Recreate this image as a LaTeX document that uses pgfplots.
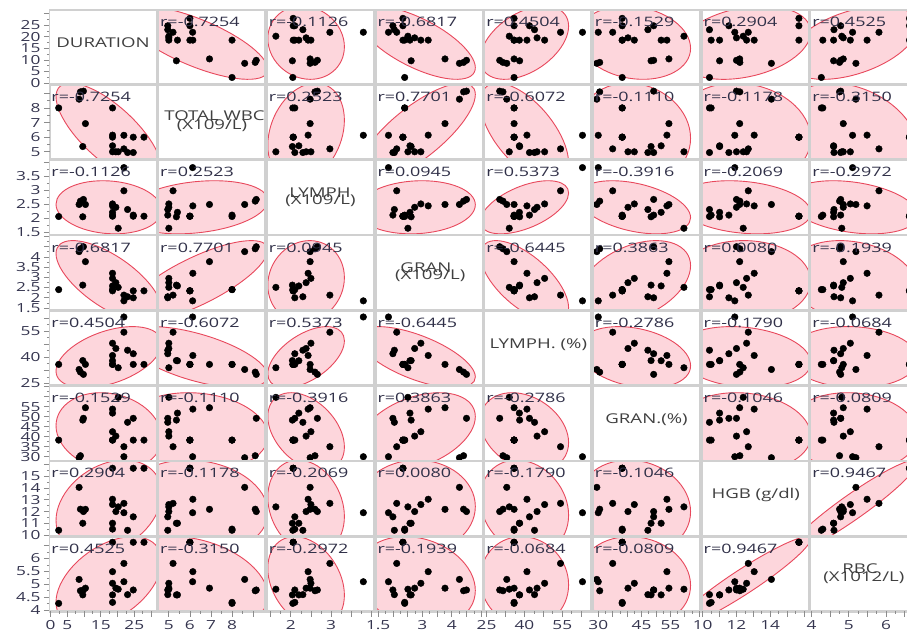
\documentclass[border=0pt]{standalone}
\usepackage{pgfplots}
\pgfplotsset{compat=1.18}
\usepackage{pgfplotstable}
\usepackage{fontspec}
\setmainfont{Open Sans}[FakeStretch=1.38]

\definecolor{ellfill}{RGB}{253,214,220}
\definecolor{elledge}{RGB}{232,72,92}
\definecolor{framegray}{RGB}{208,208,208}
\definecolor{labtext}{RGB}{64,64,64}
\definecolor{rtext}{RGB}{48,48,72}
\definecolor{ticktext}{RGB}{52,52,78}

\newcommand\ticfont{\fontsize{12.5}{13}\selectfont}
\newcommand\rfont{\fontsize{13}{14}\selectfont}
\newcommand\dfont{\fontsize{13.5}{14}\selectfont}

% variable k: column name, axis range, density-ellipse centre and half extent
\newcommand\vcol[1]{\ifcase#1\or D\or W\or L\or G\or LP\or GP\or H\or R\fi}
\newcommand\vmin[1]{\ifcase#1\or -0.2\or 4.52\or 1.42\or 1.43\or 24.3\or 28.35\or 9.97\or 3.98\fi}
\newcommand\vmax[1]{\ifcase#1\or 31.5\or 9.55\or 4.05\or 5.03\or 66.3\or 65.1\or 16.25\or 6.83\fi}
\newcommand\vmu[1]{\ifcase#1\or 17.4\or 6.3\or 2.38\or 2.8\or 40\or 42.5\or 12.4\or 5.1\fi}
\newcommand\vsd[1]{\ifcase#1\or 15.8\or 3.4\or 0.95\or 2.0\or 17.5\or 19.5\or 4.0\or 1.75\fi}
\newcommand\vticks[1]{\ifcase#1\or 0,5,10,15,20,25,30\or 5,6,7,8,9\or 1.5,2,2.5,3,3.5,4\or 1.5,2,2.5,3,3.5,4,4.5,5\or 25,32.5,40,47.5,55,62.5\or 30,35,40,45,50,55,60,65\or 10,11,12,13,14,15,16\or 4,4.5,5,5.5,6,6.5\fi}
\newcommand\vxlab[1]{\ifcase#1\or 0,5,,15,,25,\or 5,6,7,8,\or ,2,,3,,\or 1.5,,,3,,4,,\or 25,,40,,55,\or 30,,,45,,55,,\or 10,,12,,14,,\or 4,,5,,6,\fi}
\newcommand\vylab[1]{\ifcase#1\or 0,5,10,15,20,25,\or 5,6,7,8,\or 1.5,2,2.5,3,3.5,\or 1.5,2,2.5,3,3.5,4,,\or 25,,40,,55,\or 30,35,40,45,50,55,,\or 10,11,12,13,14,15,\or 4,4.5,5,5.5,6,\fi}

% pairwise correlations
\newcommand\setr[3]{\expandafter\def\csname rr@#1@#2\endcsname{#3}}
\newcommand\rr[2]{\csname rr@\ifnum#1<#2 #1@#2\else#2@#1\fi\endcsname}
\setr{1}{1}{1}\setr{2}{2}{1}\setr{3}{3}{1}\setr{4}{4}{1}
\setr{5}{5}{1}\setr{6}{6}{1}\setr{7}{7}{1}\setr{8}{8}{1}
\setr{1}{2}{-0.7254}\setr{1}{3}{-0.1126}\setr{1}{4}{-0.6817}\setr{1}{5}{0.4504}
\setr{1}{6}{-0.1529}\setr{1}{7}{0.2904}\setr{1}{8}{0.4525}
\setr{2}{3}{0.2523}\setr{2}{4}{0.7701}\setr{2}{5}{-0.6072}\setr{2}{6}{-0.1110}
\setr{2}{7}{-0.1178}\setr{2}{8}{-0.3150}
\setr{3}{4}{0.0945}\setr{3}{5}{0.5373}\setr{3}{6}{-0.3916}\setr{3}{7}{-0.2069}\setr{3}{8}{-0.2972}
\setr{4}{5}{-0.6445}\setr{4}{6}{0.3863}\setr{4}{7}{0.0080}\setr{4}{8}{-0.1939}
\setr{5}{6}{-0.2786}\setr{5}{7}{-0.1790}\setr{5}{8}{-0.0684}
\setr{6}{7}{-0.1046}\setr{6}{8}{-0.0809}
\setr{7}{8}{0.9467}

\tikzset{dlab/.style={font=\dfont, text=labtext, inner sep=0pt, anchor=center}}
\newcommand\diaglabel[1]{\ifcase#1\or
  \node[dlab] at (rel axis cs:0.5,0.555) {DURATION};\or
  \node[dlab] at (rel axis cs:0.526,0.585) {TOTAL WBC};
  \node[dlab] at (rel axis cs:0.503,0.445) {(X109/L)};\or
  \node[dlab] at (rel axis cs:0.496,0.57) {LYMPH};
  \node[dlab] at (rel axis cs:0.5,0.455) {(X109/L)};\or
  \node[dlab] at (rel axis cs:0.47,0.565) {GRAN};
  \node[dlab] at (rel axis cs:0.51,0.46) {(X109/L)};\or
  \node[dlab] at (rel axis cs:0.505,0.54) {LYMPH. (\%)};\or
  \node[dlab] at (rel axis cs:0.5,0.545) {GRAN.(\%)};\or
  \node[dlab] at (rel axis cs:0.505,0.548) {HGB (g/dl)};\or
  \node[dlab] at (rel axis cs:0.463,0.565) {RBC};
  \node[dlab] at (rel axis cs:0.5,0.452) {(X1012/L)};\fi}

\pgfplotsset{
  cell/.style={
    width=106pt, height=73.5pt, scale only axis,
    anchor=north west,
    axis background/.style={fill=white},
    axis line style={draw=framegray, line width=1pt},
    axis on top,
    xtick=\empty, ytick=\empty,
    tick style={draw=black!45, line width=0.7pt},
    major tick length=6pt, minor tick length=3pt,
    tick align=outside, tick pos=left,
    tick label style={font=\ticfont, text=ticktext},
    clip marker paths=true,
  },
}

\begin{document}
\pgfplotstableread{
D    W     L     G     LP    GP    H      R
2.4  8.00  2.05  2.40  35.9  38.3  10.40  4.26
8.5  8.60  2.48  4.26  33.0  29.5  14.07  5.19
8.9  9.10  2.60  4.40  31.5  30.5  12.20  4.75
9.8  9.15  2.66  4.50  30.2  49.2  12.00  4.78
9.6  5.36  2.04  2.62  38.1  48.3  11.00  4.59
10.4 6.93  2.48  3.77  35.9  54.5  12.19  4.85
18.5 8.00  2.10  2.40  35.9  38.3  10.50  4.30
18.5 6.14  2.43  3.20  41.0  53.8  13.05  5.49
18.5 6.00  2.06  2.34  35.9  38.3  15.70  6.63
18.5 5.41  2.20  2.58  38.0  51.8  11.00  4.59
18.5 5.00  2.50  2.95  48.0  42.5  12.60  5.04
19.5 5.00  2.38  2.74  45.0  40.3  12.00  4.85
20.2 5.00  1.63  2.51  34.0  59.7  12.40  4.81
21.9 6.13  3.80  1.85  63.0  30.0  11.90  5.10
21.9 5.20  2.97  2.13  54.3  35.0  12.70  5.81
23.0 4.95  2.30  2.05  44.0  47.2  10.40  4.60
24.7 6.00  2.06  2.34  35.9  38.3  15.70  6.63
24.7 4.95  2.10  2.00  42.0  49.2  11.55  4.78
27.9 6.00  2.06  2.34  35.9  38.3  15.70  6.63
}\datatable

\begin{tikzpicture}
\useasboundingbox (0pt,0pt) rectangle (907pt,-635pt);
\fill[framegray] (48.6pt,-8.6pt) rectangle (920pt,-612.5pt);
\foreach \i in {1,...,8}{%
 \foreach \j in {1,...,8}{%
  \pgfmathsetmacro\xo{50+108.7*(\j-1)}%
  \pgfmathsetmacro\yo{10+75.3*(\i-1)}%
  \edef\xc{\vcol{\j}}\edef\yc{\vcol{\i}}%
  \edef\xmn{\vmin{\j}}\edef\xmx{\vmax{\j}}%
  \edef\ymn{\vmin{\i}}\edef\ymx{\vmax{\i}}%
  \edef\rv{\rr{\i}{\j}}%
  \edef\mux{\vmu{\j}}\edef\sx{\vsd{\j}}%
  \edef\muy{\vmu{\i}}\edef\sy{\vsd{\i}}%
  \pgfmathsetmacro\ea{\sy*(\rv)}%
  \pgfmathsetmacro\eb{\sy*sqrt(abs(1-(\rv)*(\rv)))}%
  \ifnum\j=1
    \pgfplotsset{yct/.style={ytick/.expanded={\vticks{\i}},yticklabels/.expanded={\vylab{\i}},minor y tick num=1}}%
  \else
    \pgfplotsset{yct/.style={}}%
  \fi
  \ifnum\i=8
    \pgfplotsset{xct/.style={xtick/.expanded={\vticks{\j}},xticklabels/.expanded={\vxlab{\j}},minor x tick num=1}}%
  \else
    \pgfplotsset{xct/.style={}}%
  \fi
  \begin{axis}[cell, at={(\xo pt,-\yo pt)},
    xmin=\xmn, xmax=\xmx, ymin=\ymn, ymax=\ymx, xct, yct]
  \ifnum\i=\j
    \diaglabel{\i}
  \else
    % 95% density ellipse: x = mu_x + s_x cos t, y = mu_y + s_y cos(t - acos r)
    \pgfplotsextra{%
      \pgfscope
      \pgfpathrectanglecorners{\pgfplotspointaxisxy{\xmn}{\ymn}}{\pgfplotspointaxisxy{\xmx}{\ymx}}%
      \pgfusepath{clip}%
      \pgfpathellipse{\pgfplotspointaxisxy{\mux}{\muy}}%
        {\pgfplotspointaxisdirectionxy{\sx}{\ea}}%
        {\pgfplotspointaxisdirectionxy{0}{\eb}}%
      \pgfsetfillcolor{ellfill}\pgfsetstrokecolor{elledge}\pgfsetlinewidth{0.9pt}%
      \pgfusepath{fill,stroke}%
      \endpgfscope}
    \addplot[only marks, mark=*, mark size=3.3pt, draw=black, fill=black]
      table[x=\xc, y=\yc] {\datatable};
    \node[anchor=base west, inner sep=0pt, font=\rfont, text=rtext]
      at (rel axis cs:0.012,0.78) {r=\rv};
  \fi
  \end{axis}
 }%
}
\end{tikzpicture}
\end{document}
